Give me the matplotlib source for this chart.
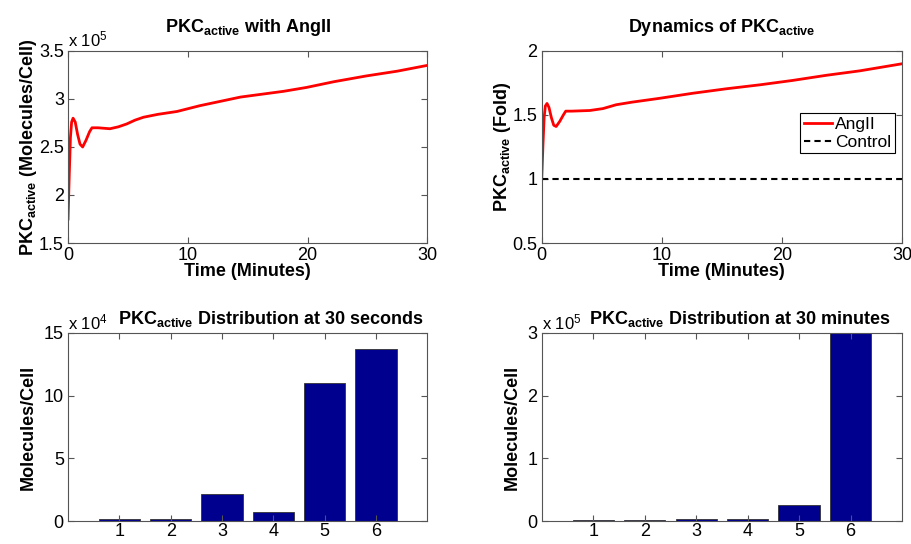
import matplotlib
matplotlib.use('Agg')
import matplotlib.pyplot as plt
from matplotlib.ticker import FuncFormatter

plt.rcParams['font.family'] = ['Liberation Sans', 'DejaVu Sans']
plt.rcParams['mathtext.fontset'] = 'custom'
plt.rcParams['mathtext.rm'] = 'Liberation Sans'
plt.rcParams['mathtext.bf'] = 'Liberation Sans:bold'
plt.rcParams['mathtext.default'] = 'rm'

# time course, PKC_active with AngII (molecules/cell)
t_abs = [0, 0.1, 0.2, 0.3, 0.42, 0.6, 0.8, 1.0, 1.22, 1.5, 1.8, 2.0, 2.5, 3.5, 4.2, 4.9, 5.6, 6.3,
         7.5, 9.1, 11, 14.4, 18, 19.9, 22.2, 24.9, 27.5, 30]
pkc_abs = [1.75e5, 2.2e5, 2.6e5, 2.76e5, 2.80e5, 2.76e5, 2.63e5, 2.53e5, 2.50e5, 2.57e5, 2.66e5,
           2.70e5, 2.70e5, 2.69e5, 2.71e5, 2.74e5, 2.78e5, 2.81e5, 2.84e5, 2.87e5, 2.93e5, 3.02e5,
           3.08e5, 3.12e5, 3.18e5, 3.24e5, 3.29e5, 3.35e5]

# time course, fold change vs control
t_fold = [0, 0.1, 0.2, 0.3, 0.44, 0.6, 0.8, 1.0, 1.2, 1.5, 1.8, 2.0, 2.5, 4.0, 5.1, 6.2, 7.5, 9.8,
          12.6, 15.4, 18.2, 20.9, 23.7, 26.5, 30]
fold = [1.0, 1.26, 1.48, 1.57, 1.59, 1.56, 1.48, 1.42, 1.41, 1.45, 1.50, 1.53, 1.53, 1.535, 1.55,
        1.58, 1.60, 1.63, 1.67, 1.705, 1.736, 1.77, 1.81, 1.845, 1.90]
control_t = [0, 30]
control = [1.0, 1.0]

# distribution over compartments
compartments = [1, 2, 3, 4, 5, 6]
dist_30s = [0.2e4, 0.15e4, 2.2e4, 0.7e4, 11.0e4, 13.75e4]
dist_30min = [0.02e5, 0.025e5, 0.04e5, 0.03e5, 0.26e5, 3.1e5]

bar_color = '#00008F'
red = '#FF0000'
fs = 13


def style(ax, xpad=3):
    ax.tick_params(direction='in', top=True, right=True, labelsize=fs, length=4,
                   color='#555555')
    ax.tick_params(axis='y', pad=3)
    ax.tick_params(axis='x', pad=xpad)
    for s in ax.spines.values():
        s.set_color('#555555')
        s.set_linewidth(0.8)


fig = plt.figure(figsize=(9.12, 5.44), dpi=100)

# top left
ax1 = fig.add_axes([0.0746, 0.5533, 0.394, 0.353])
ax1.plot(t_abs, pkc_abs, color=red, lw=2)
ax1.set_xlim(0, 30)
ax1.set_ylim(1.5e5, 3.5e5)
ax1.set_xticks([0, 10, 20, 30])
ax1.set_yticks([1.5e5, 2e5, 2.5e5, 3e5, 3.5e5])
ax1.yaxis.set_major_formatter(FuncFormatter(lambda v, p: '%g' % (v / 1e5)))
ax1.set_xlabel('Time (Minutes)', fontsize=fs, fontweight='bold', labelpad=-1)
ax1.set_ylabel(r'PKC$_{\mathbf{active}}$ (Molecules/Cell)', fontsize=fs, fontweight='bold',
               labelpad=0)
ax1.set_title(r'PKC$_{\mathbf{active}}$ with AngII', fontsize=fs, fontweight='bold', pad=14)
ax1.text(0, 1.01, r'x 10$^{5}$', transform=ax1.transAxes, fontsize=fs - 1, va='bottom')
style(ax1)

# top right
ax2 = fig.add_axes([0.594, 0.5533, 0.395, 0.353])
ax2.plot(t_fold, fold, color=red, lw=2, label='AngII')
ax2.plot(control_t, control, color='black', lw=1.5, ls='--', dashes=(3, 2), label='Control')
ax2.set_xlim(0, 30)
ax2.set_ylim(0.5, 2)
ax2.set_xticks([0, 10, 20, 30])
ax2.set_yticks([0.5, 1, 1.5, 2])
ax2.yaxis.set_major_formatter(FuncFormatter(lambda v, p: '%g' % v))
ax2.set_xlabel('Time (Minutes)', fontsize=fs, fontweight='bold', labelpad=-1)
ax2.set_ylabel(r'PKC$_{\mathbf{active}}$ (Fold)', fontsize=fs, fontweight='bold', labelpad=0)
ax2.set_title(r'Dynamics of PKC$_{\mathbf{active}}$', fontsize=fs, fontweight='bold', pad=14)
leg = ax2.legend(loc='upper right', bbox_to_anchor=(0.98, 0.675), fontsize=fs - 0.5,
                 fancybox=False, framealpha=1, edgecolor='black', borderpad=0.2,
                 handlelength=1.6, handletextpad=0.2, labelspacing=0.15, borderaxespad=0)
leg.get_frame().set_linewidth(0.8)
style(ax2)

# bottom left
ax3 = fig.add_axes([0.0746, 0.042, 0.394, 0.346])
ax3.bar(compartments, dist_30s, width=0.8, color=bar_color, edgecolor='#333333', lw=0.6)
ax3.set_xlim(0, 7)
ax3.set_ylim(0, 15e4)
ax3.set_xticks(compartments)
ax3.set_yticks([0, 5e4, 10e4, 15e4])
ax3.yaxis.set_major_formatter(FuncFormatter(lambda v, p: '%g' % (v / 1e4)))
ax3.set_ylabel('Molecules/Cell', fontsize=fs, fontweight='bold', labelpad=5)
ax3.text(0, 1.005, r'x 10$^{4}$', transform=ax3.transAxes, fontsize=fs - 1, va='bottom')
ax3.text(0.565, 1.02, r'PKC$_{\mathbf{active}}$ Distribution at 30 seconds',
         transform=ax3.transAxes, fontsize=fs, fontweight='bold', ha='center', va='bottom')
style(ax3, xpad=1)

# bottom right
ax4 = fig.add_axes([0.594, 0.042, 0.395, 0.346])
ax4.bar(compartments, dist_30min, width=0.8, color=bar_color, edgecolor='#333333', lw=0.6)
ax4.set_xlim(0, 7)
ax4.set_ylim(0, 3e5)
ax4.set_xticks(compartments)
ax4.set_yticks([0, 1e5, 2e5, 3e5])
ax4.yaxis.set_major_formatter(FuncFormatter(lambda v, p: '%g' % (v / 1e5)))
ax4.set_ylabel('Molecules/Cell', fontsize=fs, fontweight='bold', labelpad=5)
ax4.text(0, 1.005, r'x 10$^{5}$', transform=ax4.transAxes, fontsize=fs - 1, va='bottom')
ax4.text(0.55, 1.02, r'PKC$_{\mathbf{active}}$ Distribution at 30 minutes',
         transform=ax4.transAxes, fontsize=fs, fontweight='bold', ha='center', va='bottom')
style(ax4, xpad=1)

fig.savefig('out.png', dpi=100)
